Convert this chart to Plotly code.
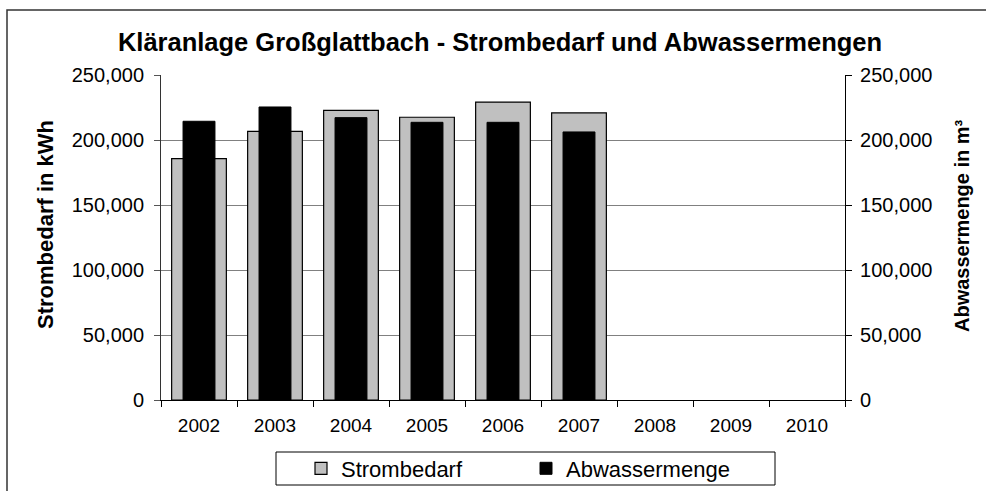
import plotly.graph_objects as go

years = ["2002", "2003", "2004", "2005", "2006", "2007", "2008", "2009", "2010"]
strombedarf = [185600, 206700, 222800, 217500, 229200, 220800, None, None, None]
abwassermenge = [214400, 225400, 217200, 213600, 213600, 206200, None, None, None]
y_ticks = [0, 50000, 100000, 150000, 200000, 250000]

FONT = "Liberation Sans, Arial, sans-serif"

fig = go.Figure()
fig.add_trace(go.Bar(
    x=years, y=strombedarf, name="Strombedarf", width=0.72,
    marker=dict(color="#C0C0C0", line=dict(color="#000000", width=1.2)),
    yaxis="y"))
fig.add_trace(go.Bar(
    x=years, y=abwassermenge, name="Abwassermenge", width=0.42,
    marker=dict(color="#000000", line=dict(color="#000000", width=1)),
    yaxis="y2"))

L, R, T, B = 161, 141, 75, 91
W, H = 986, 491
pw, ph = W - L - R, H - T - B

def px(x):
    return (x - L) / pw

def py(y):
    return (H - B - y) / ph

fig.update_layout(
    width=W, height=H,
    margin=dict(l=L, r=R, t=T, b=B, autoexpand=False),
    paper_bgcolor="white", plot_bgcolor="white",
    barmode="overlay",
    font=dict(family=FONT, color="#000000"),
    title=dict(text="<b>Kläranlage Großglattbach - Strombedarf und Abwassermengen</b>",
               font=dict(size=25.5, family=FONT), x=px(500), xref="paper", xanchor="center",
               y=1 - 42 / H, yanchor="middle"),
    xaxis=dict(type="category", tickson="boundaries", ticks="outside", ticklen=6,
               tickcolor="#000", showline=True, linecolor="#000", linewidth=1,
               tickfont=dict(size=19), showgrid=False, range=[-0.5, 8.5],
               automargin=False, ticklabelstandoff=8),
    yaxis=dict(range=[0, 250000], tickvals=y_ticks, tickformat=",", ticks="outside",
               ticklen=6, tickcolor="#555", showline=True, linecolor="#333", linewidth=1,
               showgrid=True, gridcolor="#808080", gridwidth=1.2, zeroline=False,
               tickfont=dict(size=20), automargin=False, ticklabelstandoff=6),
    yaxis2=dict(range=[0, 250000], tickvals=y_ticks, tickformat=",", overlaying="y",
                side="right", ticks="outside", ticklen=6, tickcolor="#000",
                showline=True, linecolor="#000", linewidth=1.2, showgrid=False,
                zeroline=False, tickfont=dict(size=20), automargin=False,
                ticklabelstandoff=4),
    legend=dict(orientation="h", xref="container", yref="container",
                x=301 / W, xanchor="left", y=1 - 468.5 / H, yanchor="middle",
                borderwidth=0, bgcolor="rgba(0,0,0,0)",
                font=dict(size=22), entrywidth=180, traceorder="normal"),
    showlegend=True,
    annotations=[
        dict(text="<b>Strombedarf in kWh</b>", textangle=-90, x=px(45), y=py(225),
             xref="paper", yref="paper", showarrow=False, font=dict(size=22),
             xanchor="center", yanchor="middle"),
        dict(text="<b>Abwassermenge in m³</b>", textangle=-90, x=px(962), y=py(226),
             xref="paper", yref="paper", showarrow=False, font=dict(size=20),
             xanchor="center", yanchor="middle"),
    ],
    shapes=[
        dict(type="rect", xref="paper", yref="paper",
             x0=px(7), x1=px(1000), y0=py(500), y1=py(10),
             line=dict(color="#333", width=1.5), fillcolor="rgba(0,0,0,0)",
             layer="below"),
        dict(type="rect", xref="paper", yref="paper",
             x0=px(276), x1=px(775), y0=py(485), y1=py(452),
             line=dict(color="#000", width=1), fillcolor="rgba(0,0,0,0)",
             layer="below"),
    ],
)

fig.write_html("out.html", config={"displayModeBar": False},
               post_script="document.body.style.margin='0';document.body.style.overflow='hidden';")
